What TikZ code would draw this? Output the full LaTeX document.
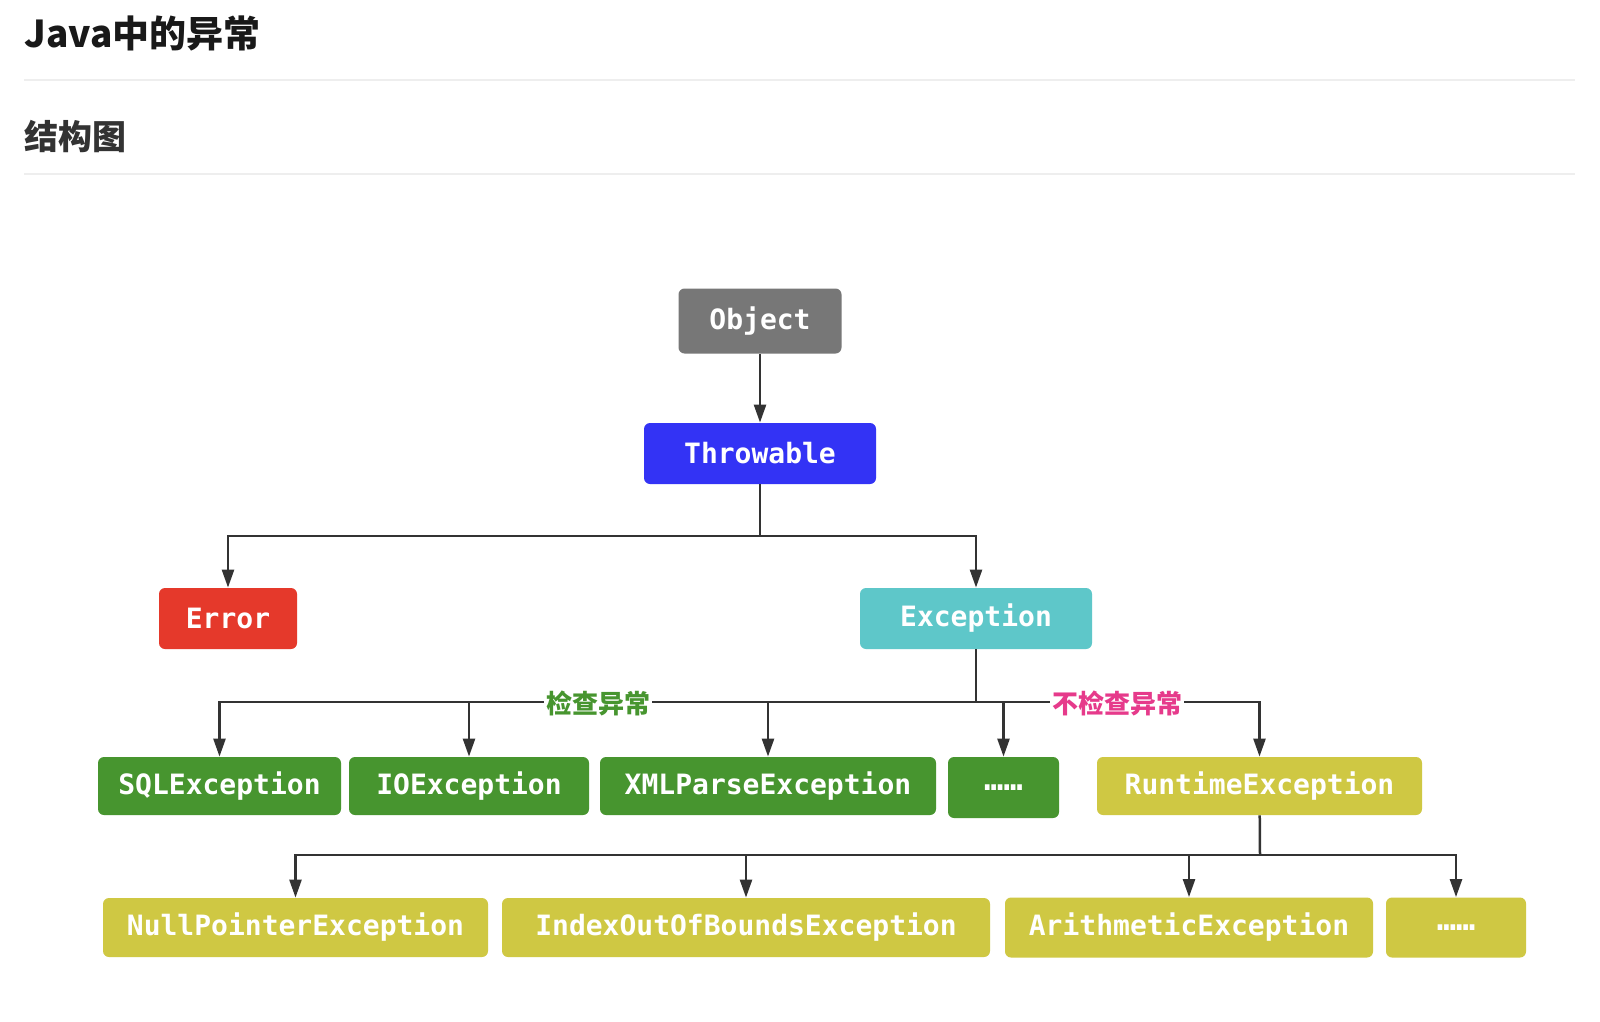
\documentclass[tikz,border=0pt]{standalone}
\usepackage{fontspec}
\setmonofont{DejaVu Sans Mono}
\newfontfamily\cjk{Noto Sans CJK SC}
\usetikzlibrary{arrows.meta}
\definecolor{objgray}{HTML}{777777}
\definecolor{thrblue}{HTML}{3333F5}
\definecolor{errred}{HTML}{E5392B}
\definecolor{exteal}{HTML}{5EC7C9}
\definecolor{chkgreen}{HTML}{47952F}
\definecolor{rtyellow}{HTML}{CFC843}
\definecolor{unpink}{HTML}{E63A8B}
\definecolor{linedark}{HTML}{333333}
\definecolor{rulegray}{HTML}{EEEEEE}
\begin{document}
\begin{tikzpicture}[x=0.5pt, y=-0.5pt,
  every node/.style={font=\ttfamily\bfseries\fontsize{14}{16}\selectfont},
  st/.style={rounded corners=3pt,text=white,minimum height=29pt,inner sep=0pt},
  arr/.style={-{Triangle[width=6pt,length=9pt]},line width=1.25pt,draw=linedark},
  br/.style={line width=1.25pt,draw=linedark},
  tag/.style={font=\cjk\bfseries\fontsize{13}{15}\selectfont,fill=white,inner sep=1pt}]
\fill[white] (0,0) rectangle (1600,1022);
\node[font=\cjk\bfseries\fontsize{18.5}{22}\selectfont,anchor=west,inner sep=0pt,text=black!90] (title) at (24,33) {Java中的异常};
\draw[rulegray,line width=1pt] (24,80) -- (1575,80);
\node[font=\cjk\bfseries\fontsize{17}{20}\selectfont,anchor=west,inner sep=0pt,text=black!80] (sub) at (24,137) {结构图};
\draw[rulegray,line width=1pt] (24,174) -- (1575,174);
% tree
\node[st,fill=objgray,minimum width=81.5pt,minimum height=32.5pt] (obj) at (760,321) {Object};
\node[st,fill=thrblue,minimum width=116pt,minimum height=30.5pt] (thr) at (760,453.5) {Throwable};
\node[st,fill=errred,minimum width=69pt,minimum height=30.5pt] (err) at (228,618.5) {Error};
\node[st,fill=exteal,minimum width=116pt,minimum height=30.5pt] (exc) at (976,618.5) {Exception};
\node[st,fill=chkgreen,minimum width=121.5pt] (sql) at (219.5,786) {SQLException};
\node[st,fill=chkgreen,minimum width=120pt] (io) at (469,786) {IOException};
\node[st,fill=chkgreen,minimum width=168pt] (xml) at (768,786) {XMLParseException};
\node[st,fill=chkgreen,minimum width=55.5pt,minimum height=30.5pt,font=\ttfamily\bfseries\fontsize{16}{16}\selectfont] (more1) at (1003.5,787.5) {……};
\node[st,fill=rtyellow,minimum width=162.5pt] (rt) at (1259.5,786) {RuntimeException};
\node[st,fill=rtyellow,minimum width=192.5pt,minimum height=29.5pt] (npe) at (295.5,927.5) {NullPointerException};
\node[st,fill=rtyellow,minimum width=244pt,minimum height=29.5pt] (idx) at (746,927.5) {IndexOutOfBoundsException};
\node[st,fill=rtyellow,minimum width=184pt,minimum height=30pt] (ari) at (1189,927.5) {ArithmeticException};
\node[st,fill=rtyellow,minimum width=70pt,minimum height=30pt,font=\ttfamily\bfseries\fontsize{16}{16}\selectfont] (more2) at (1456,927.5) {……};
\draw[arr] (obj) -- (thr);
\coordinate (jt) at (760,536);
\draw[br] (thr) -- (jt);
\draw[arr] (jt) -| (err);
\draw[arr] (jt) -| (exc);
\coordinate (je) at (976,702);
\draw[br] (exc) -- (je);
\draw[arr] (je) -| (sql);
\draw[arr] (je) -| (io);
\draw[arr] (je) -| (xml);
\draw[arr] (je) -| (more1);
\draw[arr] (je) -| (rt);
\node[tag,text=chkgreen] (chk) at (598,703) {检查异常};
\node[tag,text=unpink] (unchk) at (1117,703) {不检查异常};
\coordinate (jr) at (1260,855);
\draw[br] (rt) -- (jr);
\draw[arr] (jr) -| (npe);
\draw[arr] (jr) -| (idx);
\draw[arr] (jr) -| (ari);
\draw[arr] (jr) -| (more2);
\end{tikzpicture}
\end{document}
